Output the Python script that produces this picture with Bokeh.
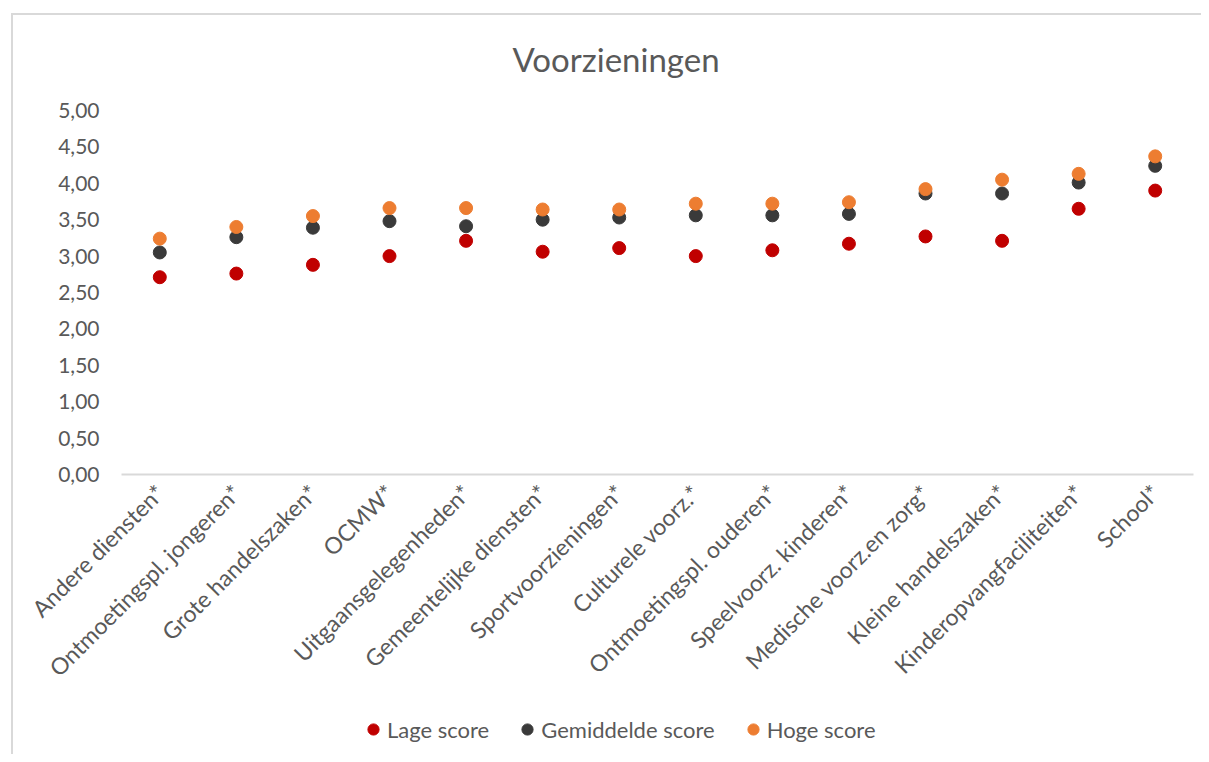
from bokeh.plotting import figure
from bokeh.layouts import column
from bokeh.models import (ColumnDataSource, FixedTicker, Legend, LegendItem, FactorRange)
from bokeh.embed import file_html
from bokeh.resources import INLINE
import math

categories = ["Andere diensten*", "Ontmoetingspl. jongeren*", "Grote handelszaken*", "OCMW*",
              "Uitgaansgelegenheden*", "Gemeentelijke diensten*", "Sportvoorzieningen*",
              "Culturele voorz.*", "Ontmoetingspl. ouderen*", "Speelvoorz. kinderen*",
              "Medische voorz.en zorg*", "Kleine handelszaken*", "Kinderopvangfaciliteiten*", "School*"]
lage = [2.71, 2.76, 2.88, 3.00, 3.21, 3.06, 3.11, 3.00, 3.08, 3.17, 3.27, 3.21, 3.65, 3.90]
gemiddelde = [3.05, 3.26, 3.39, 3.48, 3.41, 3.50, 3.53, 3.56, 3.56, 3.58, 3.86, 3.86, 4.01, 4.24]
hoge = [3.24, 3.40, 3.55, 3.66, 3.66, 3.64, 3.64, 3.72, 3.72, 3.74, 3.92, 4.05, 4.13, 4.37]
series_names = ["Lage score", "Gemiddelde score", "Hoge score"]
series_colors = ["#C00000", "#3A3A3A", "#ED7D31"]
y_ticks = [0, 0.5, 1, 1.5, 2, 2.5, 3, 3.5, 4, 4.5, 5]
y_tick_labels = ["0,00", "0,50", "1,00", "1,50", "2,00", "2,50", "3,00", "3,50", "4,00", "4,50", "5,00"]

FONT = "Lato"
GREY = "#595959"
BORDER = "#D9D9D9"

p = figure(width=1201, height=700, x_range=FactorRange(*categories, range_padding=0), y_range=(0, 5),
           output_backend="svg", toolbar_location=None,
           min_border_left=121, min_border_right=8, min_border_top=110, min_border_bottom=226)
p.border_fill_color = None
p.background_fill_color = None
p.title.text = "Voorzieningen"
p.title.align = "left"
p.title.offset = 391
p.title.text_font = FONT
p.title.text_font_size = "33px"
p.title.text_font_style = "normal"
p.title.text_color = GREY
p.title.standoff = 64

p.outline_line_color = None
p.xgrid.grid_line_color = None
p.ygrid.grid_line_color = None

p.yaxis.ticker = FixedTicker(ticks=y_ticks)
p.yaxis.major_label_overrides = {t: l for t, l in zip(y_ticks, y_tick_labels)}
p.yaxis.axis_line_color = None
p.yaxis.major_tick_line_color = None
p.yaxis.minor_tick_line_color = None
p.yaxis.major_label_text_font = FONT
p.yaxis.major_label_text_font_size = "21px"
p.yaxis.major_label_text_color = GREY
p.yaxis.major_label_standoff = 16

p.xaxis.axis_line_color = BORDER
p.xaxis.axis_line_width = 2
p.xaxis.major_tick_line_color = None
p.xaxis.minor_tick_line_color = None
p.xaxis.major_label_orientation = math.pi / 4
p.xaxis.major_label_text_font = FONT
p.xaxis.major_label_text_font_size = "23px"
p.xaxis.major_label_text_color = GREY
p.xaxis.major_label_standoff = 8

source = ColumnDataSource(dict(cat=categories, lage=lage, gem=gemiddelde, hoge=hoge))
for col, color in zip(["lage", "gem", "hoge"], series_colors):
    p.scatter(x="cat", y=col, source=source, size=13, marker="circle",
              fill_color=color, line_color=color)

# legend strip (dummy renderers lie outside the visible range; only their legend swatches show)
p2 = figure(width=1201, height=54, x_range=(0, 1), y_range=(0, 1), output_backend="svg",
            toolbar_location=None, min_border_left=0, min_border_right=0,
            min_border_top=8, min_border_bottom=0)
p2.border_fill_color = None
p2.background_fill_color = None
p2.axis.visible = False
p2.grid.visible = False
p2.outline_line_color = None
items = []
for name, color in zip(series_names, series_colors):
    r = p2.scatter(x=[-5], y=[-5], size=11, marker="circle", fill_color=color, line_color=color)
    items.append(LegendItem(label=name, renderers=[r]))
legend = Legend(items=items, orientation="horizontal", location=(238, 11),
                label_text_font=FONT, label_text_font_size="22px", label_text_color=GREY,
                glyph_width=28, glyph_height=28, label_standoff=0, spacing=24,
                border_line_color=None, background_fill_alpha=0, padding=4, margin=0)
p2.add_layout(legend)

layout = column(p, p2, spacing=0)
layout.styles = {
    "background-color": "#FFFFFF",
    "background-image": "linear-gradient(#D9D9D9, #D9D9D9), linear-gradient(#D9D9D9, #D9D9D9)",
    "background-position": "11px 13px, 11px 13px",
    "background-size": "2px 2000px, 2000px 2px",
    "background-repeat": "no-repeat, no-repeat",
}
open("out.html", "w").write(file_html(layout, INLINE))
